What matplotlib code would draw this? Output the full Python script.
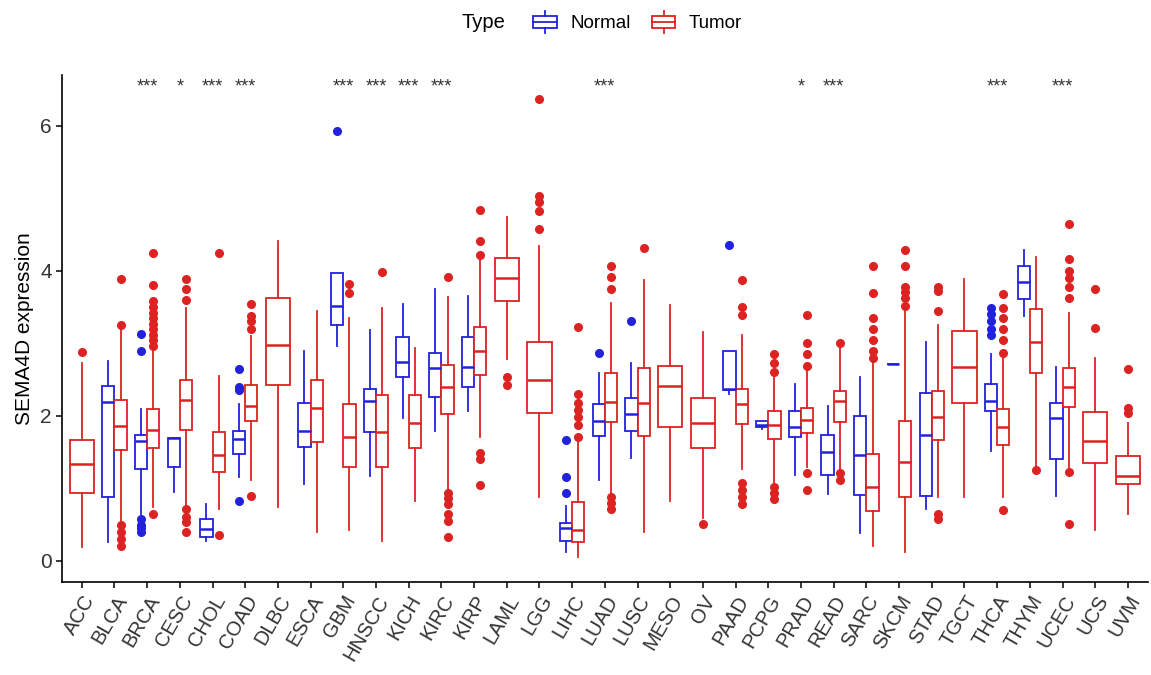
import matplotlib
matplotlib.use("Agg")
import matplotlib.pyplot as plt
from matplotlib.legend_handler import HandlerBase
from matplotlib.patches import Rectangle, Patch
from matplotlib.lines import Line2D

plt.rcParams["font.family"] = ["Liberation Sans", "DejaVu Sans"]

cancers = ["ACC", "BLCA", "BRCA", "CESC", "CHOL", "COAD", "DLBC", "ESCA", "GBM",
           "HNSCC", "KICH", "KIRC", "KIRP", "LAML", "LGG", "LIHC", "LUAD", "LUSC",
           "MESO", "OV", "PAAD", "PCPG", "PRAD", "READ", "SARC", "SKCM", "STAD",
           "TGCT", "THCA", "THYM", "UCEC", "UCS", "UVM"]

# whisker low, q1, median, q3, whisker high
normal_stats = {
    "BLCA": [0.26, 0.88, 2.19, 2.41, 2.75],
    "BRCA": [0.64, 1.27, 1.65, 1.74, 2.09],
    "CESC": [0.95, 1.30, 1.69, 1.69, 1.69],
    "CHOL": [0.28, 0.33, 0.44, 0.57, 0.78],
    "COAD": [1.16, 1.47, 1.68, 1.79, 2.16],
    "ESCA": [1.06, 1.57, 1.79, 2.18, 2.90],
    "GBM": [2.96, 3.25, 3.52, 3.97, 3.97],
    "HNSCC": [1.17, 1.78, 2.21, 2.37, 3.18],
    "KICH": [1.97, 2.54, 2.74, 3.09, 3.54],
    "KIRC": [1.79, 2.26, 2.66, 2.87, 3.75],
    "KIRP": [2.06, 2.40, 2.67, 3.09, 3.65],
    "LIHC": [0.12, 0.28, 0.45, 0.52, 0.76],
    "LUAD": [1.12, 1.72, 1.93, 2.16, 2.59],
    "LUSC": [1.42, 1.79, 2.03, 2.24, 2.73],
    "PAAD": [2.30, 2.35, 2.37, 2.89, 2.89],
    "PCPG": [1.82, 1.84, 1.87, 1.93, 1.93],
    "PRAD": [1.19, 1.71, 1.85, 2.06, 2.44],
    "READ": [0.92, 1.19, 1.50, 1.73, 2.13],
    "SARC": [0.38, 0.91, 1.46, 2.00, 2.54],
    "SKCM": [2.71, 2.71, 2.71, 2.71, 2.71],
    "STAD": [0.71, 0.90, 1.74, 2.31, 3.02],
    "THCA": [1.52, 2.06, 2.21, 2.44, 2.85],
    "THYM": [3.38, 3.61, 3.84, 4.06, 4.28],
    "UCEC": [0.90, 1.40, 1.97, 2.18, 2.67],
}

tumor_stats = {
    "ACC": [0.19, 0.93, 1.33, 1.66, 2.73],
    "BLCA": [0.52, 1.53, 1.86, 2.22, 3.20],
    "BRCA": [0.74, 1.55, 1.80, 2.10, 2.94],
    "CESC": [0.74, 1.80, 2.22, 2.50, 3.49],
    "CHOL": [0.71, 1.22, 1.46, 1.77, 2.55],
    "COAD": [1.11, 1.93, 2.13, 2.42, 3.10],
    "DLBC": [0.74, 2.43, 2.97, 3.63, 4.41],
    "ESCA": [0.40, 1.64, 2.11, 2.50, 3.44],
    "GBM": [0.43, 1.30, 1.71, 2.16, 3.35],
    "HNSCC": [0.28, 1.30, 1.78, 2.29, 3.48],
    "KICH": [0.83, 1.55, 1.90, 2.28, 2.94],
    "KIRC": [0.97, 2.02, 2.40, 2.70, 3.64],
    "KIRP": [1.71, 2.56, 2.89, 3.23, 4.15],
    "LAML": [2.78, 3.58, 3.90, 4.17, 4.74],
    "LGG": [0.88, 2.04, 2.50, 3.02, 4.34],
    "LIHC": [0.05, 0.26, 0.43, 0.81, 1.71],
    "LUAD": [0.90, 1.91, 2.19, 2.59, 3.56],
    "LUSC": [0.40, 1.72, 2.18, 2.66, 3.87],
    "MESO": [0.83, 1.84, 2.41, 2.69, 3.53],
    "OV": [0.59, 1.55, 1.90, 2.24, 3.16],
    "PAAD": [1.26, 1.88, 2.16, 2.37, 3.11],
    "PCPG": [1.07, 1.68, 1.87, 2.06, 2.61],
    "PRAD": [1.30, 1.76, 1.94, 2.11, 2.68],
    "READ": [1.26, 1.91, 2.21, 2.34, 2.94],
    "SARC": [0.21, 0.69, 1.02, 1.47, 2.73],
    "SKCM": [0.12, 0.88, 1.36, 1.93, 3.51],
    "STAD": [0.88, 1.67, 1.99, 2.34, 3.25],
    "TGCT": [0.88, 2.18, 2.67, 3.17, 3.89],
    "THCA": [0.88, 1.60, 1.85, 2.09, 2.87],
    "THYM": [1.28, 2.59, 3.02, 3.47, 4.19],
    "UCEC": [1.26, 2.12, 2.40, 2.66, 3.42],
    "UCS": [0.43, 1.35, 1.65, 2.05, 2.80],
    "UVM": [0.65, 1.06, 1.17, 1.44, 1.90],
}

normal_outliers = {
    "BRCA": [3.13, 2.89, 0.57, 0.50, 0.45, 0.40],
    "COAD": [2.64, 2.40, 2.35, 0.82],
    "GBM": [5.93],
    "LIHC": [1.66, 1.15, 0.93],
    "LUAD": [2.86],
    "LUSC": [3.31],
    "PAAD": [4.35],
    "THCA": [3.49, 3.40, 3.30, 3.20, 3.11],
}

tumor_outliers = {
    "ACC": [2.88],
    "BLCA": [3.88, 3.25, 0.50, 0.40, 0.30, 0.21],
    "BRCA": [4.25, 3.80, 3.58, 3.50, 3.42, 3.35, 3.27, 3.20, 3.12, 3.04, 2.96, 0.64],
    "CESC": [3.89, 3.75, 3.60, 0.71, 0.60, 0.53, 0.40],
    "CHOL": [4.24, 0.36],
    "COAD": [3.54, 3.37, 3.30, 3.20, 0.89],
    "GBM": [3.82, 3.69],
    "HNSCC": [3.98],
    "KIRC": [3.92, 0.93, 0.86, 0.78, 0.64, 0.55, 0.33],
    "KIRP": [4.84, 4.41, 4.22, 1.49, 1.40, 1.04],
    "LAML": [2.54, 2.42],
    "LGG": [6.37, 5.03, 4.95, 4.82, 4.58],
    "LIHC": [3.23, 2.30, 2.18, 2.08, 1.98, 1.87, 1.71],
    "LUAD": [4.06, 3.91, 3.75, 0.88, 0.80, 0.71],
    "LUSC": [4.31],
    "OV": [0.51],
    "PAAD": [3.87, 3.50, 3.39, 1.07, 0.97, 0.88, 0.78],
    "PCPG": [2.85, 2.73, 2.61, 1.02, 0.93, 0.85],
    "PRAD": [3.39, 3.01, 2.85, 2.68, 1.21, 0.97],
    "READ": [3.01, 1.21, 1.11],
    "SARC": [4.07, 3.69, 3.35, 3.20, 3.05, 2.90, 2.80],
    "SKCM": [4.29, 4.07, 3.77, 3.70, 3.62, 3.51],
    "STAD": [3.77, 3.72, 3.44, 0.64, 0.57],
    "THCA": [3.68, 3.49, 3.35, 3.20, 3.05, 2.87, 0.70],
    "THYM": [1.25],
    "UCEC": [4.65, 4.16, 4.00, 3.90, 3.78, 3.63, 1.23, 0.51],
    "UCS": [3.75, 3.21],
    "UVM": [2.64, 2.11, 2.04],
}

signif = {"BRCA": "***", "CESC": "*", "CHOL": "***", "COAD": "***", "GBM": "***",
          "HNSCC": "***", "KICH": "***", "KIRC": "***", "LUAD": "***",
          "PRAD": "*", "READ": "***", "THCA": "***", "UCEC": "***"}

BLUE = "#2222dd"
RED = "#dd2222"
TEXT = "#333333"


def make_stats(stats, outliers):
    out = []
    for name, v in stats.items():
        out.append(dict(label=name, whislo=v[0], q1=v[1], med=v[2], q3=v[3],
                        whishi=v[4], fliers=outliers.get(name, [])))
    return out


class BoxHandler(HandlerBase):
    # small boxplot glyph like ggplot's legend key
    def create_artists(self, legend, orig_handle, xdescent, ydescent,
                       width, height, fontsize, trans):
        c = orig_handle.get_edgecolor()
        cx = -xdescent + width / 2
        w = width * 0.85
        y0 = -ydescent
        rect = Rectangle((cx - w / 2, y0 + 0.22 * height), w, 0.56 * height,
                         facecolor="white", edgecolor=c, lw=1.3, transform=trans)
        med = Line2D([cx - w / 2, cx + w / 2], [y0 + 0.5 * height] * 2,
                     color=c, lw=1.3, transform=trans)
        lo = Line2D([cx, cx], [y0, y0 + 0.22 * height], color=c, lw=1.3, transform=trans)
        hi = Line2D([cx, cx], [y0 + 0.78 * height, y0 + height], color=c, lw=1.3,
                    transform=trans)
        return [rect, med, lo, hi]


fig = plt.figure(figsize=(11.51, 6.75), dpi=100)
ax = fig.add_axes([0.054, 0.138, 0.943, 0.751])

idx = {c: i for i, c in enumerate(cancers)}

for stats, outliers, color, side in [(normal_stats, normal_outliers, BLUE, -1),
                                     (tumor_stats, tumor_outliers, RED, 1)]:
    other = tumor_stats if side < 0 else normal_stats
    pos, wid = [], []
    for name in stats:
        if name in other:
            pos.append(idx[name] + side * 0.1875)
            wid.append(0.375)
        else:
            pos.append(idx[name])
            wid.append(0.75)
    ax.bxp(make_stats(stats, outliers), positions=pos, widths=wid,
           patch_artist=True, showcaps=False, manage_ticks=False,
           boxprops=dict(facecolor="white", edgecolor=color, linewidth=1.3),
           medianprops=dict(color=color, linewidth=1.8),
           whiskerprops=dict(color=color, linewidth=1.3),
           flierprops=dict(marker="o", markerfacecolor=color,
                           markeredgecolor=color, markersize=5.5))

for name, s in signif.items():
    ax.text(idx[name], 6.53, s, ha="center", va="center", fontsize=13, color=TEXT)

ax.set_xlim(-0.6, len(cancers) - 0.4)
ax.set_ylim(-0.29, 6.7)
ax.set_xticks(range(len(cancers)))
ax.set_xticklabels(cancers, rotation=60, ha="right", rotation_mode="anchor",
                   fontsize=14.5, color=TEXT)
ax.set_yticks([0, 2, 4, 6])
ax.tick_params(axis="y", labelsize=15, labelcolor=TEXT, length=4, width=1.1)
ax.tick_params(axis="x", length=4, width=1.1)
ax.set_ylabel("SEMA4D expression", fontsize=15)
for sp in ["top", "right"]:
    ax.spines[sp].set_visible(False)
for sp in ["left", "bottom"]:
    ax.spines[sp].set_linewidth(1.2)

handles = [Patch(edgecolor=BLUE, facecolor="white"), Patch(edgecolor=RED, facecolor="white")]
fig.legend(handles, ["Normal", "Tumor"], loc="center", ncol=2,
           bbox_to_anchor=(0.553, 1 - 22 / 675), frameon=False, fontsize=13.5,
           handler_map={Patch: BoxHandler()}, handlelength=1.5, handleheight=1.5,
           handletextpad=0.6, columnspacing=1.0)
fig.text(0.42, 1 - 22 / 675, "Type", ha="center", va="center", fontsize=14.5)

fig.savefig("out.png", dpi=100)
